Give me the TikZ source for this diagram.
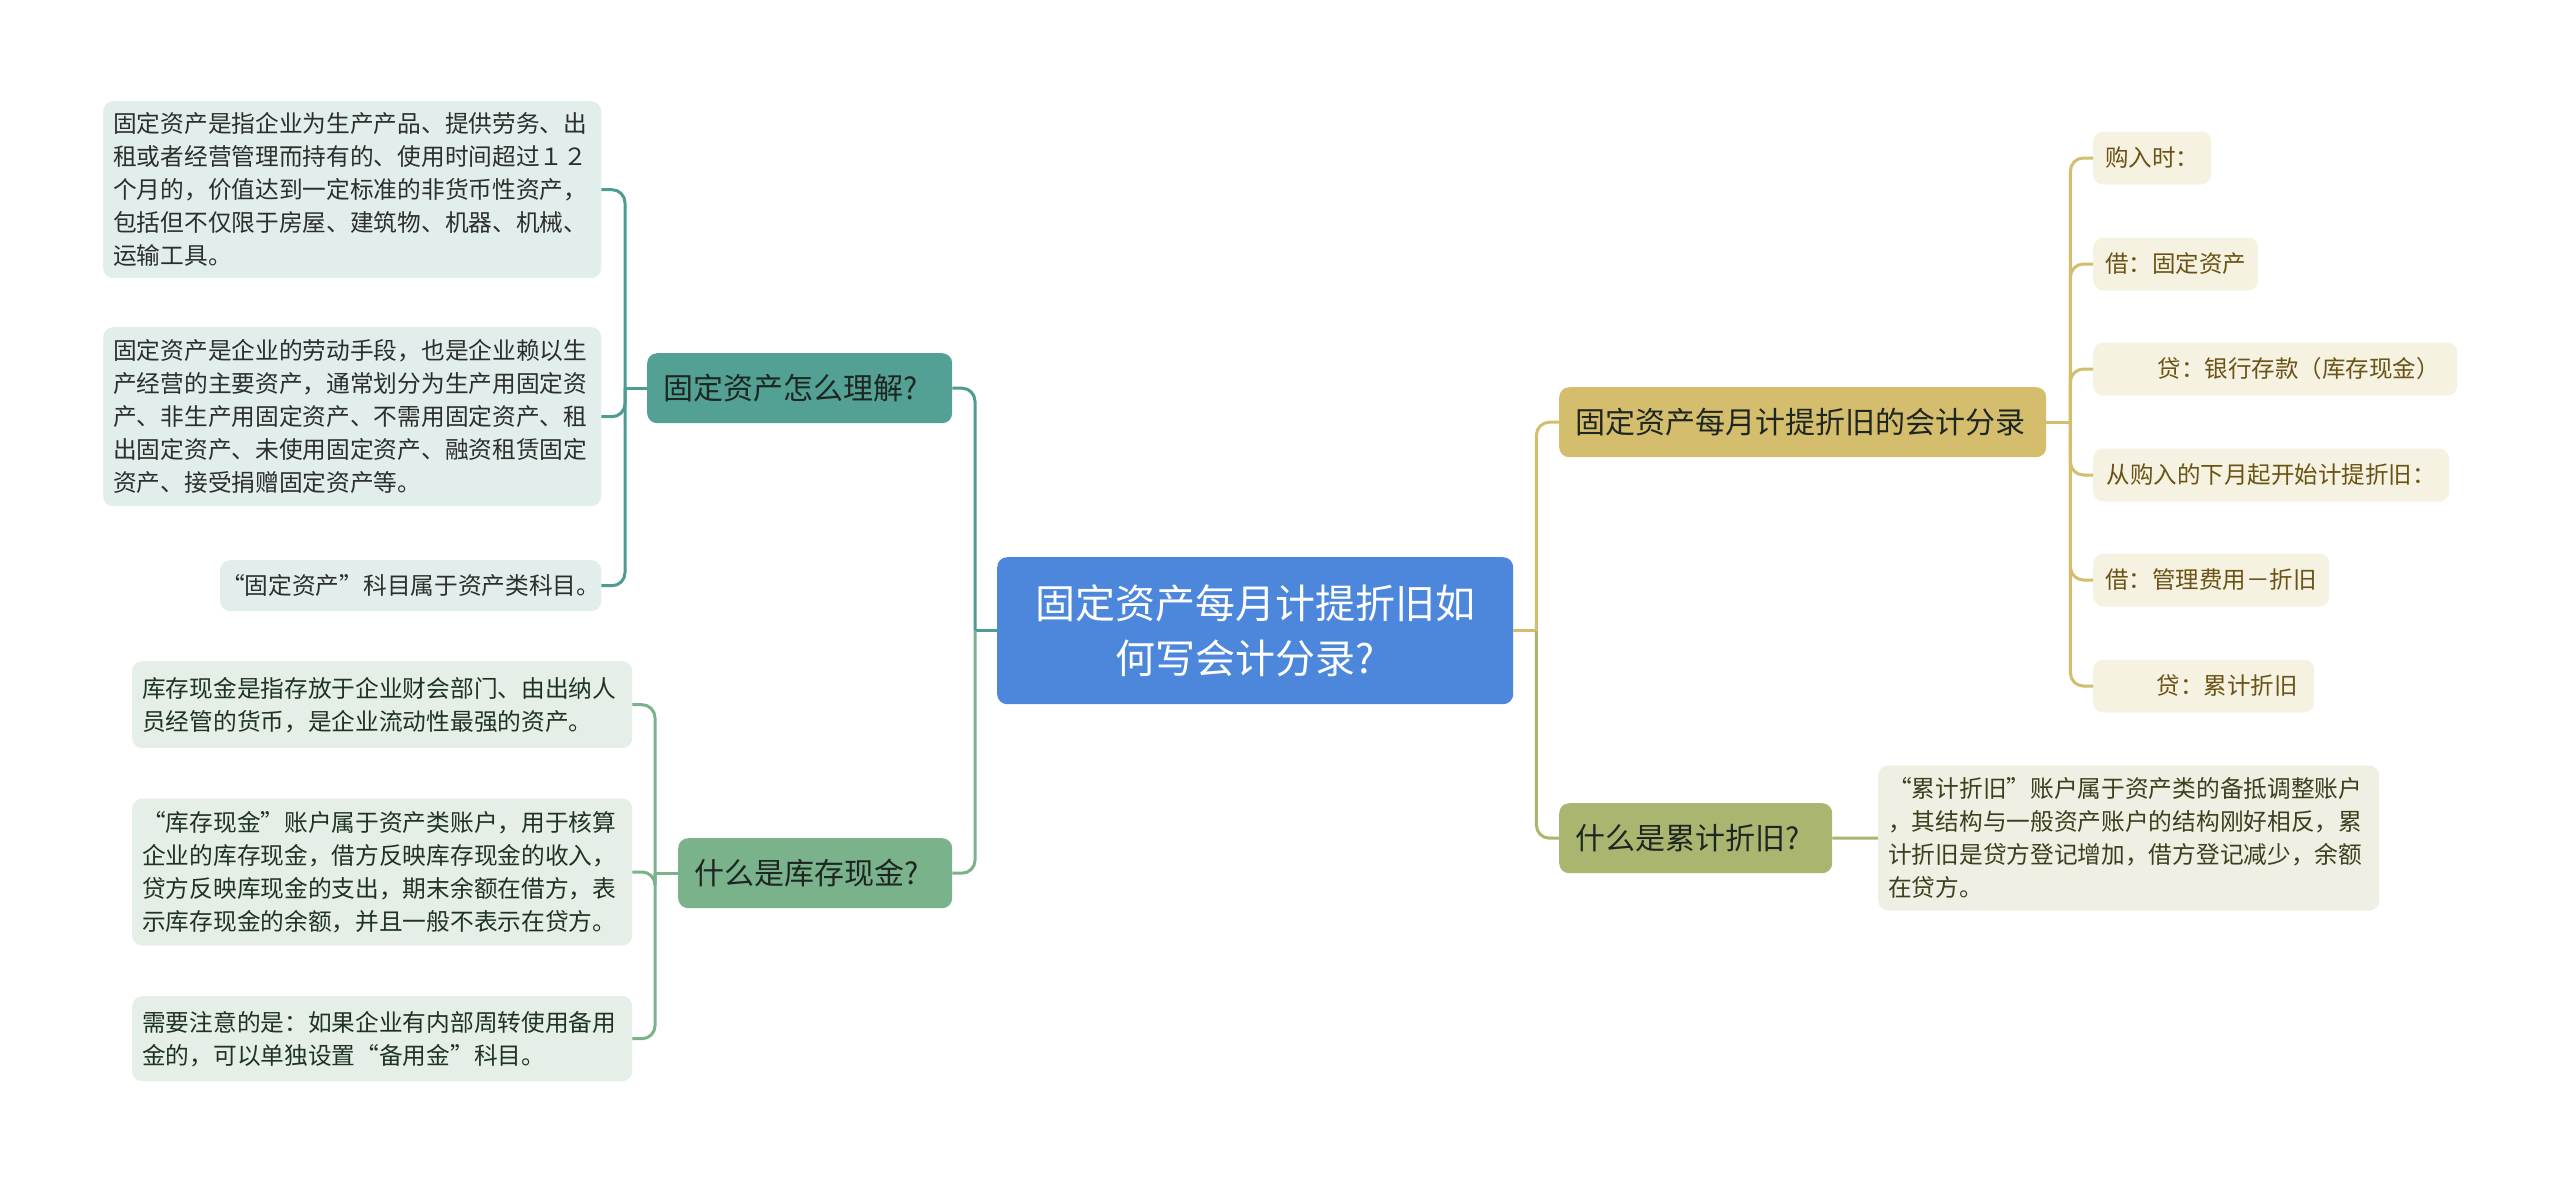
\documentclass[tikz,border=0pt]{standalone}
\usepackage{fontspec}
\setmainfont{Noto Sans CJK SC}
\usetikzlibrary{calc}
\definecolor{mainblue}{HTML}{4C87DB}
\definecolor{tealnode}{HTML}{53A094}
\definecolor{tealline}{HTML}{4E9B8F}
\definecolor{greennode}{HTML}{7AB28C}
\definecolor{goldnode}{HTML}{D4BD6C}
\definecolor{olivenode}{HTML}{AAB570}
\definecolor{leafteal}{HTML}{E1EEEB}
\definecolor{leafgreen}{HTML}{E5EFE7}
\definecolor{leafcream}{HTML}{F6F2E2}
\definecolor{leafolive}{HTML}{EFEFE4}
\definecolor{txtteal}{HTML}{2C2F2E}
\definecolor{txtgreen}{HTML}{1F3323}
\definecolor{txtcream}{HTML}{6A5314}
\definecolor{txtolive}{HTML}{3D3F1D}
\definecolor{txtnode}{HTML}{1E2622}
\tikzset{
  boxbase/.style={rounded corners=10pt, inner ysep=0pt, draw=none},
  bodyfont/.style={font=\fontsize{23.7pt}{33pt}\selectfont},
  leafT/.style={boxbase, bodyfont, fill=leafteal, text=txtteal, align=left, inner xsep=10pt},
  leafG/.style={boxbase, bodyfont, fill=leafgreen, text=txtgreen, align=left, inner xsep=10pt},
  leafC/.style={boxbase, font=\fontsize{23.5pt}{30pt}\selectfont, fill=leafcream, text=txtcream, inner xsep=0pt, minimum height=53pt},
  leafO/.style={boxbase, bodyfont, fill=leafolive, text=txtolive, align=left, inner xsep=10pt},
  topic/.style={boxbase, font=\fontsize{30pt}{36pt}\selectfont, text=txtnode, align=left, inner xsep=16pt, minimum height=70pt},
  centralnode/.style={boxbase, font=\fontsize{40pt}{55pt}\selectfont, fill=mainblue, text=white, align=center, inner xsep=0pt},
  conn/.style={line width=3pt, rounded corners=13pt},
  lnT/.style={conn, draw=tealline},
  lnG/.style={conn, draw=greennode},
  lnY/.style={conn, draw=goldnode},
  lnO/.style={conn, draw=olivenode}
}
\begin{document}
\begin{tikzpicture}[x=1pt,y=-1pt]
\useasboundingbox (0,0) rectangle (2560,1184);
\fill[white] (0,0) rectangle (2560,1184);

% central
\node[centralnode, minimum width=516pt, minimum height=147pt, anchor=north west] (main) at (997,557)
  {固定资产每月计提折旧如\\何写会计分录?\makebox[0.5em]{}};

% main topics
\node[topic, fill=tealnode, text width=273pt, anchor=north west] (n1) at (647,353) {固定资产怎么理解?};
\node[topic, fill=greennode, text width=242pt, anchor=north west] (n2) at (678,838) {什么是库存现金?};
\node[topic, fill=goldnode, text width=455pt, anchor=north west] (n3) at (1559,387) {固定资产每月计提折旧的会计分录};
\node[topic, fill=olivenode, text width=241pt, anchor=north west] (n4) at (1559,803) {什么是累计折旧?};

% left group 1
\node[leafT, text width=478pt, minimum height=177pt, anchor=north west] (a1) at (103,101)
  {固定资产是指企业为生产产品、提供劳务、出\\租或者经营管理而持有的、使用时间超过１２\\个月的，价值达到一定标准的非货币性资产，\\包括但不仅限于房屋、建筑物、机器、机械、\\运输工具。};
\node[leafT, text width=478pt, minimum height=179pt, anchor=north west] (a2) at (103,327)
  {固定资产是企业的劳动手段，也是企业赖以生\\产经营的主要资产，通常划分为生产用固定资\\产、非生产用固定资产、不需用固定资产、租\\出固定资产、未使用固定资产、融资租赁固定\\资产、接受捐赠固定资产等。};
\node[leafT, inner xsep=0pt, minimum width=381pt, minimum height=51pt, anchor=north west] (a3) at (220,560)
  {“固定资产”科目属于资产类科目。};

% left group 2
\node[leafG, text width=480pt, minimum height=87pt, anchor=north west] (b1) at (132,661)
  {库存现金是指存放于企业财会部门、由出纳人\\员经管的货币，是企业流动性最强的资产。};
\node[leafG, text width=480pt, minimum height=147pt, anchor=west] (b2) at (132,872)
  {“库存现金”账户属于资产类账户，用于核算\\企业的库存现金，借方反映库存现金的收入，\\贷方反映库现金的支出，期末余额在借方，表\\示库存现金的余额，并且一般不表示在贷方。};
\node[leafG, text width=480pt, minimum height=85pt, anchor=north west] (b3) at (132,996)
  {需要注意的是：如果企业有内部周转使用备用\\金的，可以单独设置“备用金”科目。};

% right group 1
\node[leafC, minimum width=118pt, anchor=west] (c1) at (2093,158) {购入时：};
\node[leafC, minimum width=165pt, anchor=west] (c2) at (2093,264) {借：固定资产};
\node[leafC, minimum width=364pt, anchor=west] (c3) at (2093,369) {　　贷：银行存款（库存现金）};
\node[leafC, minimum width=356pt, anchor=west] (c4) at (2093,475) {从购入的下月起开始计提折旧：};
\node[leafC, minimum width=236pt, anchor=west] (c5) at (2093,580) {借：管理费用－折旧};
\node[leafC, minimum width=221pt, anchor=west] (c6) at (2093,686) {　　贷：累计折旧};

% right group 2
\node[leafO, text width=481pt, minimum height=145pt, anchor=west] (r1) at (1878,838)
  {“累计折旧”账户属于资产类的备抵调整账户\\，其结构与一般资产账户的结构刚好相反，累\\计折旧是贷方登记增加，借方登记减少，余额\\在贷方。};

% connectors from central
\coordinate (jl) at ($(main.west)+(-22,0)$);
\coordinate (jr) at ($(main.east)+(23,0)$);
\draw[lnT] (main.west) -- (jl);
\draw[lnT] (jl) |- (n1.east);
\draw[lnG] (jl) |- (n2.east);
\draw[lnY] (main.east) -- (jr);
\draw[lnY] (jr) |- (n3.west);
\draw[lnO] (jr) |- (n4.west);

% group 1 bracket
\coordinate (k1) at ($(n1.west)+(-22,0)$);
\draw[lnT] (n1.west) -- (k1);
\draw[lnT] (k1) |- (a1.east);
\draw[lnT] (k1) |- (a2.east);
\draw[lnT] (k1) |- (a3.east);

% group 2 bracket
\coordinate (k2) at ($(n2.west)+(-23,0)$);
\draw[lnG] (n2.west) -- (k2);
\draw[lnG] (k2) |- (b1.east);
\draw[lnG] (k2) |- (b2.east);
\draw[lnG] (k2) |- (b3.east);

% group 3 bracket
\coordinate (k3) at ($(n3.east)+(24,0)$);
\draw[lnY] (n3.east) -- (k3);
\foreach \c in {c1,c2,c3,c4,c5,c6} { \draw[lnY] (k3) |- (\c.west); }

% group 4
\draw[lnO] (n4.east) -- (r1.west);
\end{tikzpicture}
\end{document}
